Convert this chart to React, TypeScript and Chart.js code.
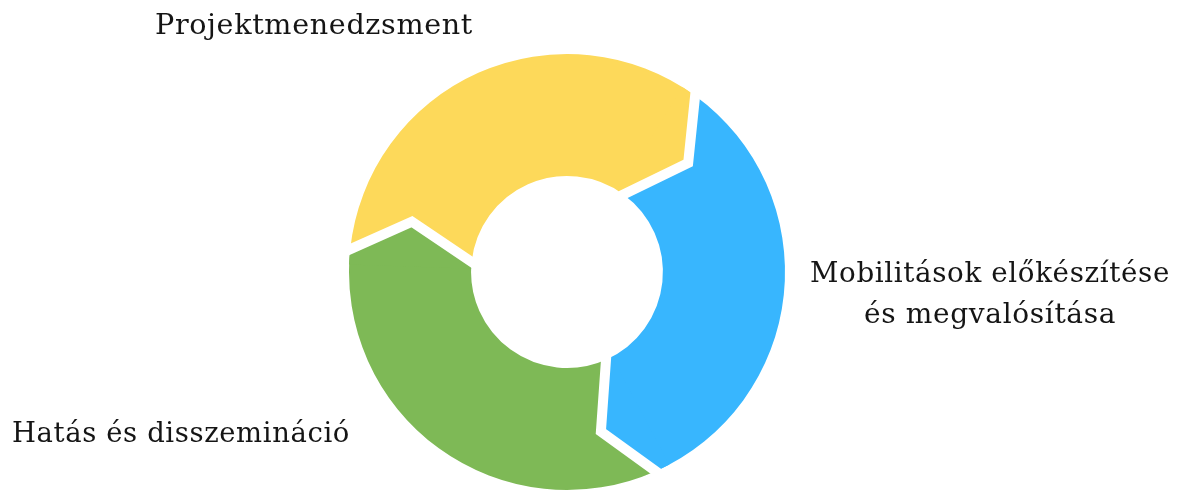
import React, { useEffect, useRef } from "react";
import { Chart, registerables } from "chart.js";

Chart.register(...registerables);

// ---- data ----
const categories = [
  "Projektmenedzsment",
  "Mobilitások előkészítése és megvalósítása",
  "Hatás és disszemináció",
];
const values = [1, 1, 1];
const colors = ["#FDD95A", "#38B6FE", "#7EB956"];
const labelLines = [
  ["Projektmenedzsment"],
  ["Mobilitások előkészítése", "és megvalósítása"],
  ["Hatás és disszemináció"],
];

// ---- layout / style ----
const W = 1182;
const H = 495;
const FONT = '"DejaVu Serif", "Liberation Serif", serif';
const FONT_SIZE = 27;
const LETTER_SPACING = 0.6;
const TIP_DEG = 12;
const GAP = 10;
// per label: anchor x, align, baseline y of each line, target width of each line
const LABEL_LAYOUT = [
  { x: 155, align: "left", ys: [34], widths: [318] },
  { x: 990, align: "center", ys: [282, 323], widths: [360, 252] },
  { x: 12, align: "left", ys: [442], widths: [338] },
];

const chevronPlugin = {
  id: "chevrons",
  afterDatasetsDraw(chart: any) {
    const meta = chart.getDatasetMeta(0);
    const ctx: CanvasRenderingContext2D = chart.ctx;
    const arcs = meta.data as any[];
    const delta = (TIP_DEG * Math.PI) / 180;
    const back = (4 * Math.PI) / 180;
    const geo = arcs.map((arc) => {
      const p = arc.getProps(["x", "y", "endAngle", "innerRadius", "outerRadius"], true);
      const R = p.outerRadius;
      const r = p.innerRadius;
      const rm = r + 0.55 * (R - r);
      const pt = (a: number, rad: number) => [p.x + Math.cos(a) * rad, p.y + Math.sin(a) * rad];
      return {
        x: p.x,
        y: p.y,
        R,
        r,
        e: p.endAngle,
        o: pt(p.endAngle, R),
        v: pt(p.endAngle + delta, rm),
        n: pt(p.endAngle, r),
      };
    });
    ctx.save();
    geo.forEach((g, i) => {
      ctx.beginPath();
      ctx.arc(g.x, g.y, g.R, g.e - back, g.e, false);
      ctx.lineTo(g.v[0], g.v[1]);
      ctx.lineTo(g.n[0], g.n[1]);
      ctx.arc(g.x, g.y, g.r, g.e, g.e - back, true);
      ctx.closePath();
      ctx.fillStyle = colors[i % colors.length];
      ctx.fill();
    });
    const ext = (a: number[], b: number[], len: number) => {
      const dx = a[0] - b[0];
      const dy = a[1] - b[1];
      const d = Math.hypot(dx, dy) || 1;
      return [a[0] + (dx / d) * len, a[1] + (dy / d) * len];
    };
    geo.forEach((g) => {
      const o2 = ext(g.o, g.v, 20);
      const n2 = ext(g.n, g.v, 20);
      ctx.beginPath();
      ctx.moveTo(o2[0], o2[1]);
      ctx.lineTo(g.v[0], g.v[1]);
      ctx.lineTo(n2[0], n2[1]);
      ctx.strokeStyle = "#ffffff";
      ctx.lineWidth = GAP;
      ctx.lineJoin = "miter";
      ctx.lineCap = "butt";
      ctx.stroke();
    });
    ctx.restore();
  },
};

const labelPlugin = {
  id: "cycleLabels",
  afterDraw(chart: any) {
    const ctx: any = chart.ctx;
    ctx.save();
    ctx.fillStyle = "#151515";
    ctx.textBaseline = "alphabetic";
    ctx.textAlign = "left";
    ctx.font = `${FONT_SIZE}px ${FONT}`;
    ctx.letterSpacing = `${LETTER_SPACING}px`;
    labelLines.forEach((lines, i) => {
      const lay = LABEL_LAYOUT[i];
      lines.forEach((line, j) => {
        const w = ctx.measureText(line).width;
        const sx = lay.widths[j] / w;
        const left = lay.align === "center" ? lay.x - lay.widths[j] / 2 : lay.x;
        ctx.save();
        ctx.translate(left, lay.ys[j]);
        ctx.scale(sx, 1);
        ctx.fillText(line, 0, 0);
        ctx.restore();
      });
    });
    ctx.restore();
  },
};

export default function App() {
  const ref = useRef<HTMLCanvasElement | null>(null);
  useEffect(() => {
    if (!ref.current) return;
    const chart = new Chart(ref.current, {
      type: "doughnut",
      data: {
        labels: categories,
        datasets: [
          {
            data: values,
            backgroundColor: colors,
            borderWidth: 0,
            hoverOffset: 0,
          },
        ],
      },
      options: {
        responsive: false,
        animation: false,
        cutout: "44%",
        rotation: 276,
        layout: { padding: { top: 54, bottom: 5, left: 0, right: 48 } },
        plugins: {
          legend: { display: false },
          tooltip: { enabled: false },
        },
        events: [],
      },
      plugins: [chevronPlugin, labelPlugin],
    } as any);
    return () => chart.destroy();
  }, []);
  return (
    <div style={{ position: "fixed", left: 0, top: 0, width: W, height: H, background: "#ffffff" }}>
      <canvas ref={ref} width={W} height={H} style={{ display: "block" }} />
    </div>
  );
}
